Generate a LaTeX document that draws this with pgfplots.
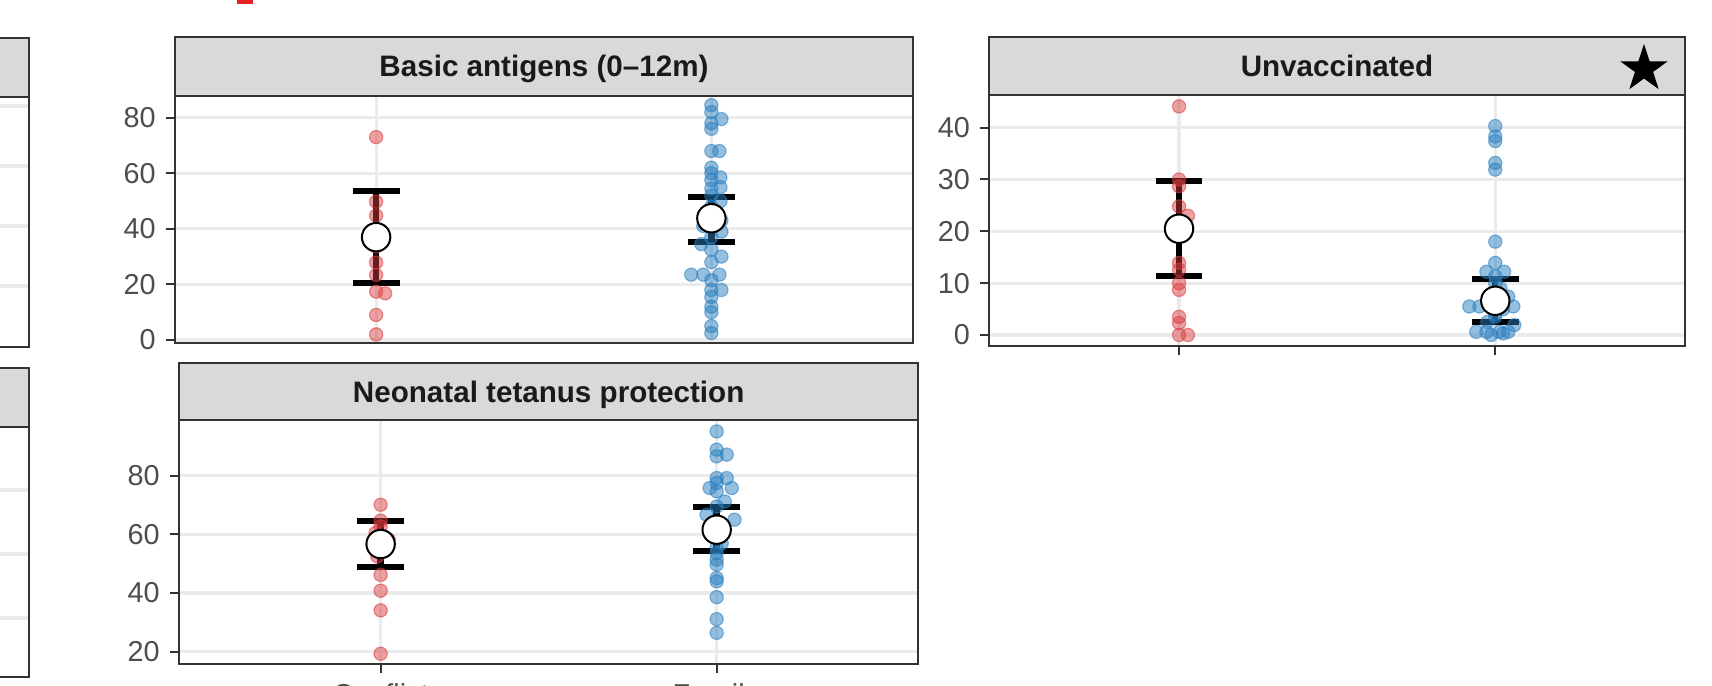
\documentclass[border=0pt]{standalone}
\usepackage{pgfplots}
\pgfplotsset{compat=1.18}
\usepackage{pgfplotstable}
\usepackage{fontspec}
\setmainfont{Liberation Sans}
\usetikzlibrary{shapes.geometric}
\definecolor{c33}{HTML}{333333}
\definecolor{c4D}{HTML}{4D4D4D}
\definecolor{c1A}{HTML}{1A1A1A}
\definecolor{cEB}{HTML}{EBEBEB}
\definecolor{cD9}{HTML}{D9D9D9}
\definecolor{cred}{HTML}{D93B3F}
\definecolor{cblue}{HTML}{2A7FBF}
\definecolor{topred}{RGB}{232,32,40}

\newcommand{\PX}[2]{({(#1)*0.25pt},{(685-(#2))*0.25pt})}

% ---------- data ----------
% Basic antigens (0-12m)
\pgfplotstableread{
x y
1 73.0
1 49.8
1 44.8
1 38.0
1 35.0
1 33.6
1 27.9
1 23.4
1 17.4
1.027 16.8
1 9.0
1 2.0
}\BAred
\pgfplotstableread{
x y
2 84.5
2 82
2.030 79.5
2 78
2 76
2 68
2.024 68
2 62
2 60
2.027 58.5
2 57.5
2.027 55
2 54.5
2 52
2.027 50
2 48
2 46
2.030 43
1.976 41
2.030 39
2 37
1.970 34.5
2 32.5
2.030 30
2 28
1.940 23.5
1.976 23.5
2.024 23.5
2 21.5
2.030 18
2 18
2 15.5
2 12
2 10
2 5
2 2.5
}\BAblue
\pgfplotstableread{
x y ep em
1 37.0 16.7 16.6
2 43.8 7.8 8.6
}\BAstat
% Unvaccinated
\pgfplotstableread{
x y
1 44.1
1 30.0
1 28.7
1 24.8
1.028 23.0
1 13.9
1 12.6
1 10.0
1 8.7
1 3.5
1 2.3
1 0
1.028 0
}\UVred
\pgfplotstableread{
x y
2 40.3
2 38.3
2 37.4
2 33.2
2 31.9
2 18.0
2 13.9
1.972 12.2
2.028 12.2
2 11.3
2 10
2.016 9
2.041 7.4
2 7
1.987 6
1.918 5.5
1.950 5.5
2.057 5.5
2.025 5
2 4
2 3.5
2.060 1.9
1.975 2.5
1.940 0.6
1.972 0.6
2.013 0.6
2.041 0.6
1.987 0
2.025 0.3
}\UVblue
\pgfplotstableread{
x y ep em
1 20.5 9.3 9.2
2 6.6 4.2 4.1
}\UVstat
% Neonatal tetanus protection
\pgfplotstableread{
x y
1 70.1
1 64.7
1 62.7
0.985 60.5
1.024 58.2
1 55
0.990 52.5
1 46.2
1 40.8
1 34.1
1 19.3
}\NTred
\pgfplotstableread{
x y
2 95.1
2 88.9
2.030 87.2
2 86.6
2.030 79.2
2 79.2
2 77.5
1.979 75.8
2.045 75.8
2 74.7
2.024 71.2
2 69.5
1.970 66.7
2.053 65.0
2 63
2 60
2.015 57
2 55.5
2 53.6
2 51.4
2 49.7
2 45.1
2 44.0
2 38.6
2 31.1
2 26.4
}\NTblue
\pgfplotstableread{
x y ep em
1 56.7 7.9 7.8
2 61.6 7.7 7.4
}\NTstat

\pgfplotsset{
  panel/.style={
    scale only axis, anchor=north west, clip=false,
    axis line style={draw=c33, line width=0.5pt},
    tick style={draw=c33, line width=0.5pt},
    major tick length=2.33pt, tick align=outside,
    ytick pos=left, xtick pos=bottom,
    grid=major, major grid style={draw=cEB, line width=0.8pt},
    xmin=0.4, xmax=2.6, xtick={1,2}, xticklabels={},
    ticklabel style={font=\fontsize{7.2}{8.6}\selectfont, text=c4D},
    yticklabel style={inner sep=0pt, anchor=east, xshift=-2.33pt},
    /pgf/number format/assume math mode=true,
  },
  partial/.style={
    scale only axis, anchor=north west, clip=false,
    axis line style={draw=c33, line width=0.5pt},
    y dir=reverse, xmin=0, xmax=1, xtick=\empty,
    yticklabels={}, ytick style={draw=none},
    ymajorgrids, major grid style={draw=cEB, line width=0.8pt},
  },
  redpts/.style={only marks, mark=*, mark size=1.65pt,
    mark options={fill=cred, draw=cred, fill opacity=0.48, draw opacity=0.55, line width=0.3pt}},
  bluepts/.style={only marks, mark=*, mark size=1.65pt,
    mark options={fill=cblue, draw=cblue, fill opacity=0.5, draw opacity=0.55, line width=0.3pt}},
  stat/.style={only marks, mark=*, mark size=3.55pt,
    mark options={fill=white, draw=black, line width=0.5pt},
    /pgfplots/error bars/y dir=both, /pgfplots/error bars/y explicit,
    /pgfplots/error bars/error bar style={line width=1.6pt, draw=black, solid},
    /pgfplots/error bars/error mark=|,
    /pgfplots/error bars/error mark options={line width=1.5pt, mark size=5.85pt, draw=black}},
}

\begin{document}
\begin{tikzpicture}
\useasboundingbox (0,0) rectangle (428pt,171.25pt);
\clip (0,0) rectangle (428pt,171.25pt);

% partial panels on the left edge
\begin{axis}[partial, at={(-150pt,147.075pt)}, width=157.25pt, height=62.5pt,
  ymin=96.7, ymax=346.7, ytick={106,166,226,286}]
\end{axis}
\begin{axis}[partial, at={(-150pt,64.575pt)}, width=157.25pt, height=62.5pt,
  ymin=426.7, ymax=676.7, ytick={490,554,618}]
\end{axis}

% Basic antigens
\begin{axis}[panel, at={(43.75pt,147.25pt)}, width=184.375pt, height=61.875pt,
  ymin=-1.26, ymax=87.8, ytick={0,20,40,60,80}, xtick style={draw=none}]
\addplot[redpts] table[x=x,y=y] {\BAred};
\addplot[bluepts] table[x=x,y=y] {\BAblue};
\addplot[stat] table[x=x,y=y,y error plus=ep,y error minus=em] {\BAstat};
\end{axis}

% Unvaccinated
\begin{axis}[panel, at={(247.325pt,147.375pt)}, width=173.925pt, height=62.5pt,
  ymin=-2.03, ymax=46.2, ytick={0,10,20,30,40}]
\addplot[redpts] table[x=x,y=y] {\UVred};
\addplot[bluepts] table[x=x,y=y] {\UVblue};
\addplot[stat] table[x=x,y=y,y error plus=ep,y error minus=em] {\UVstat};
\end{axis}

% Neonatal tetanus protection
\begin{axis}[panel, at={(44.75pt,66.25pt)}, width=184.825pt, height=61pt,
  ymin=15.8, ymax=99.0, ytick={20,40,60,80},
  xticklabels={Conflict,Fragile},
  xticklabel style={inner sep=0pt, anchor=north, yshift=-2.3pt}]
\addplot[redpts] table[x=x,y=y] {\NTred};
\addplot[bluepts] table[x=x,y=y] {\NTblue};
\addplot[stat] table[x=x,y=y,y error plus=ep,y error minus=em] {\NTstat};
\end{axis}

% strips
\begin{scope}[line width=0.5pt]
\draw[fill=cD9, draw=c33] \PX{-100}{38.3} rectangle \PX{29}{96.7};
\draw[fill=cD9, draw=c33] \PX{-100}{368.3} rectangle \PX{29}{426.7};
\draw[fill=cD9, draw=c33] \PX{175}{37.3} rectangle \PX{912.5}{96};
\draw[fill=cD9, draw=c33] \PX{989.3}{36.7} rectangle \PX{1685}{95.5};
\draw[fill=cD9, draw=c33] \PX{179}{363.3} rectangle \PX{918.3}{420};
\end{scope}
\begin{scope}[font=\bfseries\fontsize{7.4}{8.8}\selectfont, text=c1A]
\node[anchor=base, inner sep=0pt] at \PX{544}{76.9} {Basic antigens (0–12m)};
\node[anchor=base, inner sep=0pt] at \PX{1337}{76.9} {Unvaccinated};
\node[anchor=base, inner sep=0pt] at \PX{548.7}{402.9} {Neonatal tetanus protection};
\end{scope}
\node[star, star points=5, star point ratio=2.618, fill=black, inner sep=0pt,
  minimum size=12.5pt] at \PX{1644}{69} {};
\fill[topred] \PX{236.7}{-3} rectangle \PX{252.7}{4};
\end{tikzpicture}
\end{document}
